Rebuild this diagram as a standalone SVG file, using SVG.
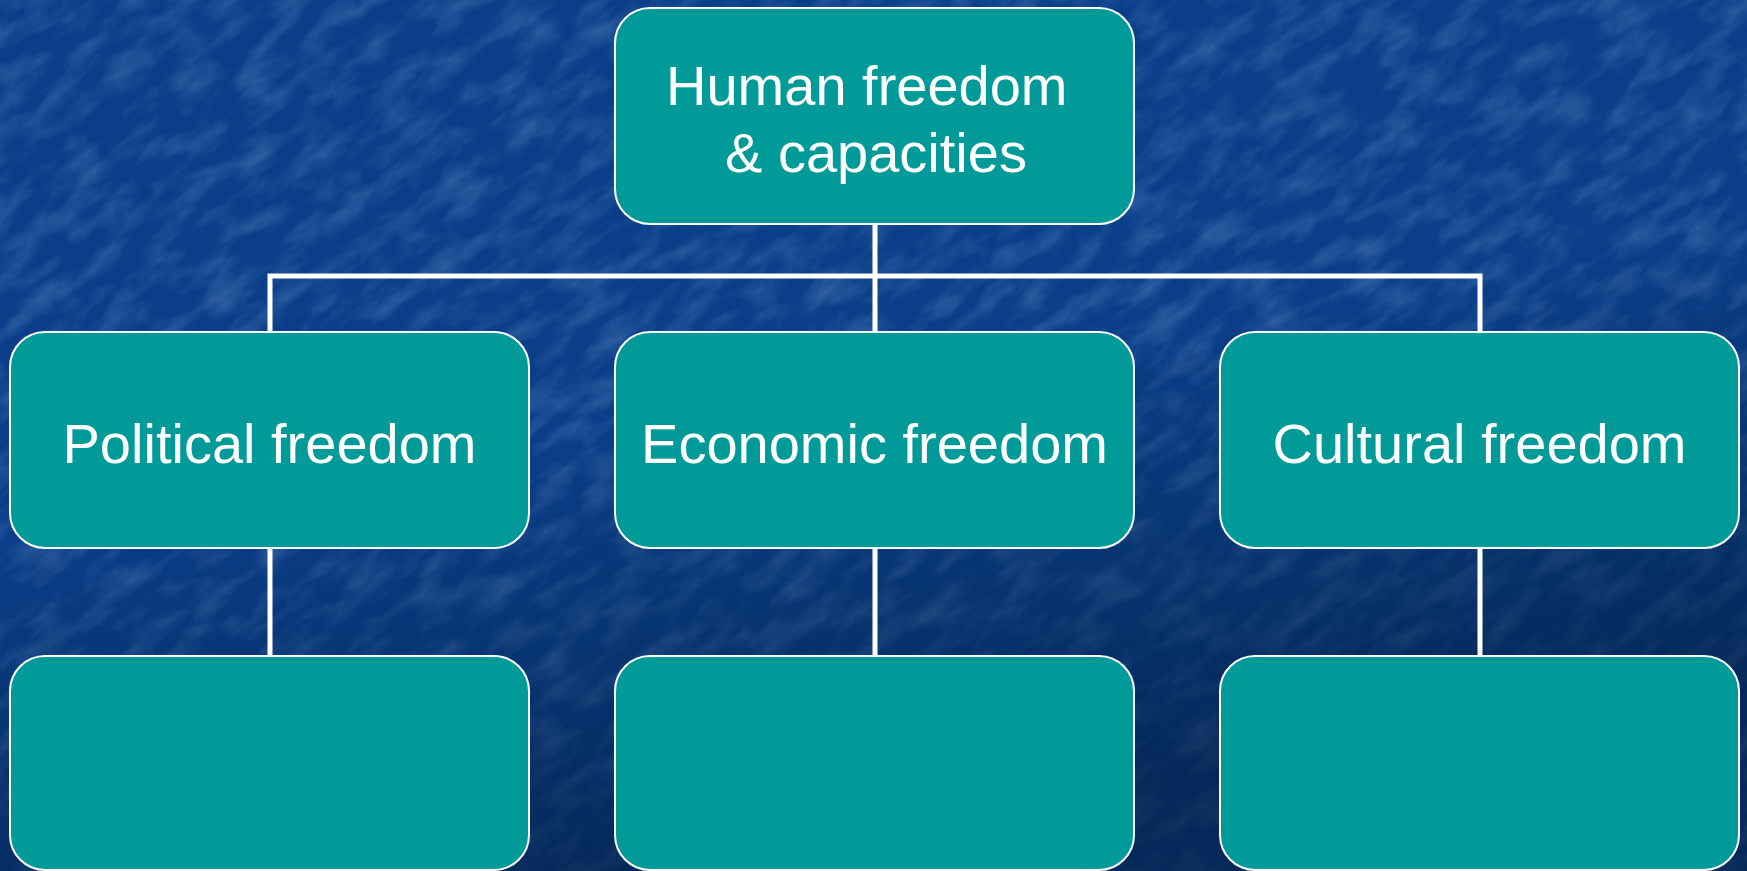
<svg xmlns="http://www.w3.org/2000/svg" width="1747" height="871" viewBox="0 0 1747 871">
  <defs>
    <style>
      .box { fill: #009a99; stroke: #ffffff; stroke-width: 2; }
      .label { fill: #ffffff; font-family: "Liberation Sans", Arial, sans-serif; font-size: 56px; }
      .link { fill: none; stroke: #ffffff; stroke-width: 5; }
    </style>
    <!-- mottled blue backdrop -->
    <filter id="grain" x="0" y="0" width="100%" height="100%">
      <feTurbulence type="fractalNoise" baseFrequency="0.02 0.05" numOctaves="4" seed="7" result="n"/>
      <feColorMatrix in="n" type="matrix"
        values="0 0 0 0 0.30
                0 0 0 0 0.50
                0 0 0 0 0.80
                0 0 0 1.4 -0.55" />
    </filter>
    <linearGradient id="shade" x1="0" y1="0" x2="0.35" y2="1">
      <stop offset="0.55" stop-color="#001a3a" stop-opacity="0"/>
      <stop offset="1" stop-color="#001a3a" stop-opacity="0.6"/>
    </linearGradient>
  </defs>

  <rect width="1747" height="871" fill="#0a3e88"/>
  <g transform="rotate(-35 873 435)">
    <rect x="-600" y="-600" width="2950" height="2100" filter="url(#grain)" opacity="0.35"/>
  </g>
  <rect width="1747" height="871" fill="url(#shade)"/>

  <!-- connectors -->
  <g id="connectors">
    <path class="link" d="M875 224 V276 M270 332 V276 H1480 V332 M875 276 V332"/>
    <path class="link" d="M270 548 V656 M875 548 V656 M1480 548 V656"/>
  </g>

  <g id="node-human">
    <rect class="box" x="615" y="8" width="519" height="216" rx="35"/>
    <text class="label" x="666" y="105">Human freedom</text>
    <text class="label" x="725" y="172">&amp; capacities</text>
  </g>

  <g id="node-political">
    <rect class="box" x="10" y="332" width="519" height="216" rx="35"/>
    <text class="label" x="269.5" y="463" text-anchor="middle">Political freedom</text>
  </g>

  <g id="node-economic">
    <rect class="box" x="615" y="332" width="519" height="216" rx="35"/>
    <text class="label" x="874.5" y="463" text-anchor="middle">Economic freedom</text>
  </g>

  <g id="node-cultural">
    <rect class="box" x="1220" y="332" width="519" height="216" rx="35"/>
    <text class="label" x="1479.5" y="463" text-anchor="middle">Cultural freedom</text>
  </g>

  <g id="node-political-detail">
    <rect class="box" x="10" y="656" width="519" height="214" rx="35"/>
  </g>

  <g id="node-economic-detail">
    <rect class="box" x="615" y="656" width="519" height="214" rx="35"/>
  </g>

  <g id="node-cultural-detail">
    <rect class="box" x="1220" y="656" width="519" height="214" rx="35"/>
  </g>
</svg>
